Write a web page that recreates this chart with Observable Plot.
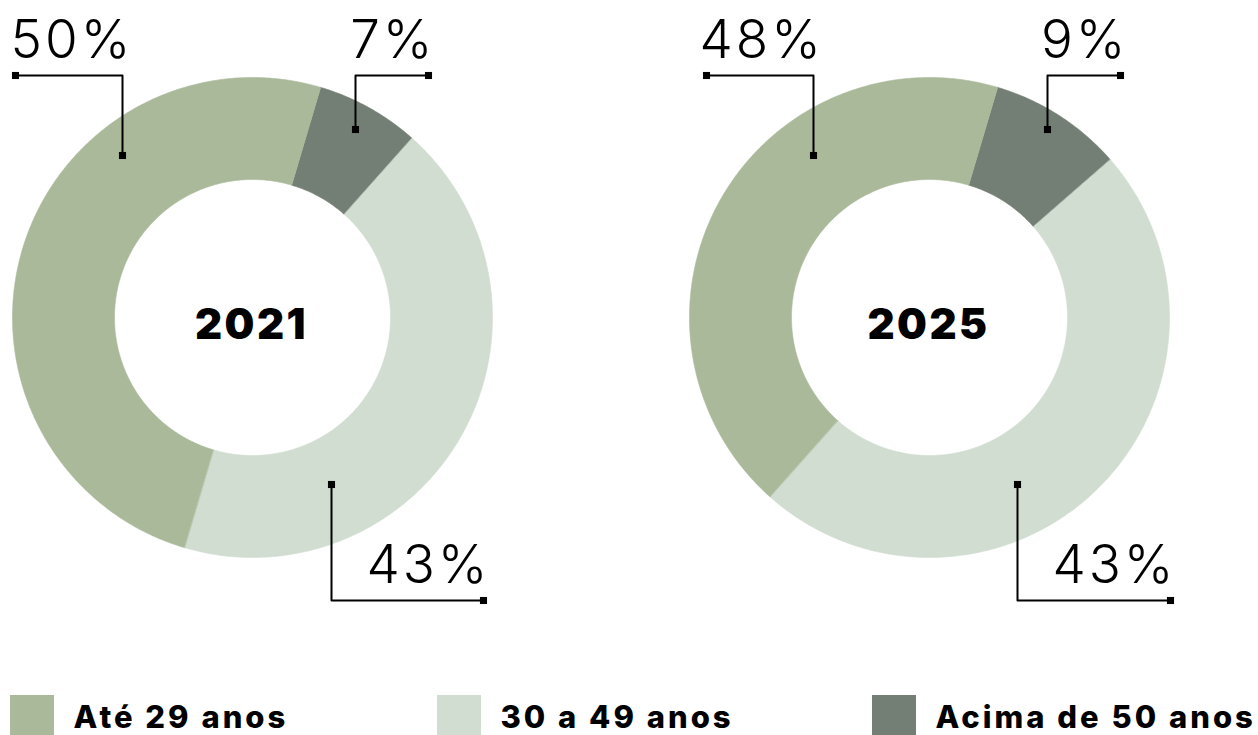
<!DOCTYPE html>
<html>
<head>
<meta charset="utf-8">
<script src="https://cdn.jsdelivr.net/npm/d3@7"></script>
<script src="https://cdn.jsdelivr.net/npm/@observablehq/plot@0.6"></script>
<style>
  html, body { margin: 0; padding: 0; background: #fff; overflow: hidden; }
</style>
</head>
<body>
<div id="chart"></div>
<script>
// ---- data ----
const categories = ["Até 29 anos", "30 a 49 anos", "Acima de 50 anos"];
const colors = ["#aab99a", "#d2ddd2", "#737e74"];
const years = ["2021", "2025"];
// arc shares (%) as drawn, per category
const shares2021 = [50, 43, 7];
const shares2025 = [43, 48, 9];
// printed labels, per category
const labels2021 = ["50%", "43%", "7%"];
const labels2025 = ["48%", "43%", "9%"];

// ---- layout ----
const W = 1258, H = 735;
const rOuter = 240, rInner = 138;
const startDeg = 16.5;            // clockwise from 12 o'clock
const drawOrder = [2, 1, 0];      // dark, light, green going clockwise
const centers = [[252, 317], [929, 317]];
const thinFont = "Inter, Lato, sans-serif";
const boldFont = "Inter, Lato, sans-serif";

const donuts = years.map((year, k) => ({
  year, cx: centers[k][0], cy: centers[k][1],
  shares: [shares2021, shares2025][k],
  labels: [labels2021, labels2025][k]
}));

// slice polygons built from the shares
const arcPts = [];
donuts.forEach(d => {
  let a = startDeg;
  drawOrder.forEach(ci => {
    const a0 = a, a1 = a + d.shares[ci] * 3.6;
    a = a1;
    const key = d.year + "-" + ci;
    const n = Math.max(2, Math.ceil((a1 - a0) / 0.5));
    for (let i = 0; i <= n; i++) {
      const t = (a0 + (a1 - a0) * i / n) * Math.PI / 180;
      arcPts.push({key, color: colors[ci], x: d.cx + rOuter * Math.sin(t), y: d.cy - rOuter * Math.cos(t)});
    }
    for (let i = n; i >= 0; i--) {
      const t = (a0 + (a1 - a0) * i / n) * Math.PI / 180;
      arcPts.push({key, color: colors[ci], x: d.cx + rInner * Math.sin(t), y: d.cy - rInner * Math.cos(t)});
    }
  });
});

// leader lines (annotation layout), per donut per category
const leaderLayout = [
  // 2021
  [ {path: [[15,75],[122,75],[122,155]], text: [10,57,"start"]},
    {path: [[331,484],[331,600],[483,600]], text: [490,582,"end"]},
    {path: [[428,75],[355,75],[355,129]], text: [435,57,"end"]} ],
  // 2025
  [ {path: [[706,75],[813,75],[813,155]], text: [699,57,"start"]},
    {path: [[1017,484],[1017,600],[1170,600]], text: [1176,582,"end"]},
    {path: [[1120,75],[1047,75],[1047,129]], text: [1128,57,"end"]} ]
];
const leaderPts = [], leaderEnds = [], pctLabels = [];
donuts.forEach((d, k) => {
  categories.forEach((c, ci) => {
    const L = leaderLayout[k][ci];
    L.path.forEach(p => leaderPts.push({key: d.year + ci, x: p[0], y: p[1]}));
    leaderEnds.push({x: L.path[0][0], y: L.path[0][1]});
    leaderEnds.push({x: L.path[L.path.length-1][0], y: L.path[L.path.length-1][1]});
    pctLabels.push({x: L.text[0], y: L.text[1], anchor: L.text[2], text: d.labels[ci]});
  });
});

// legend
const legendX = [10, 437, 872];
const legend = categories.map((c, i) => ({
  name: c, color: colors[i], x1: legendX[i], x2: legendX[i] + 44, y1: 695, y2: 745,
  tx: legendX[i] + 63, ty: 727
}));

const textStart = pctLabels.filter(d => d.anchor === "start");
const textEnd = pctLabels.filter(d => d.anchor === "end");

const chart = Plot.plot({
  width: W, height: H, margin: 0,
  x: {domain: [0, W], range: [0, W], axis: null},
  y: {domain: [0, H], range: [0, H], axis: null},
  color: {type: "identity"},
  style: {background: "#fff", overflow: "hidden"},
  marks: [
    Plot.line(arcPts, {x: "x", y: "y", z: "key", fill: "color", stroke: "color", strokeWidth: 0.6, curve: "linear-closed"}),
    Plot.text(donuts, {x: d => d.cx - 1, y: d => d.cy + 21, text: "year", textAnchor: "middle", lineAnchor: "bottom",
      fontSize: 42, fontWeight: 900, fontFamily: boldFont, fill: "#000"}),
    Plot.line(leaderPts, {x: "x", y: "y", z: "key", stroke: "#000", strokeWidth: 2}),
    Plot.dot(leaderEnds, {x: "x", y: "y", symbol: "square", r: 4, fill: "#000", stroke: "none"}),
    Plot.text(textStart, {x: "x", y: "y", text: "text", textAnchor: "start", lineAnchor: "bottom",
      fontSize: 53, fontWeight: 300, fontFamily: thinFont, fill: "#000"}),
    Plot.text(textEnd, {x: "x", y: "y", text: "text", textAnchor: "end", lineAnchor: "bottom",
      fontSize: 53, fontWeight: 300, fontFamily: thinFont, fill: "#000"}),
    Plot.rect(legend, {x1: "x1", x2: "x2", y1: "y1", y2: "y2", fill: "color"}),
    Plot.text(legend, {x: "tx", y: "ty", text: "name", textAnchor: "start", lineAnchor: "bottom",
      fontSize: 31, fontWeight: 800, fontFamily: boldFont, fill: "#000"})
  ]
});
// letter spacing per text mark (center years, % labels, legend)
const textGroups = chart.querySelectorAll('g[aria-label="text"]');
const spacings = ["2.5px", "3px", "3px", "3px"];
textGroups.forEach((g, i) => g.style.letterSpacing = spacings[i] || "0");
document.getElementById("chart").append(chart);
</script>
</body>
</html>
